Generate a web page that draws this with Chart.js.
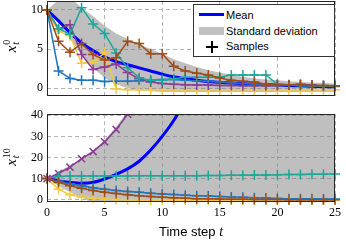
<!DOCTYPE html>
<html>
<head>
<meta charset="utf-8">
<script src="https://cdn.jsdelivr.net/npm/chart.js@4.4.1/dist/chart.umd.min.js"></script>
<style>
  html, body { margin: 0; padding: 0; background: #fff; }
  #wrap { position: relative; width: 346px; height: 243px; overflow: hidden; }
  canvas { position: absolute; left: 0; }
  #topChart { top: 0; }
  #botChart { top: 100px; }
  .ylab { position: absolute; width: 40px; height: 20px; line-height: 20px; text-align: center;
          transform: rotate(-90deg); font-family: "Liberation Serif", serif; font-size: 15px; white-space: nowrap; }
  .ylab i { font-style: italic; }
  .ss { display: inline-block; font-size: 10px; line-height: 9px; vertical-align: -3px; margin-left: 1px; text-align: left; }
  .ss span { display: block; }
  .legend { position: absolute; left: 193px; top: 4px; width: 142px; height: 53px; box-sizing: border-box;
            border: 1px solid #333; background: #fff; font: 11px "Liberation Sans", Arial, sans-serif; color: #000; }
  .legend .txt { position: absolute; left: 32px; line-height: 12px; white-space: nowrap; }
  .xtitle { position: absolute; left: 47px; width: 288px; top: 224px; text-align: center;
            font: 13px "Liberation Sans", Arial, sans-serif; line-height: 15px; }
  .xtitle i { font-family: "Liberation Serif", serif; font-size: 14px; }
</style>
</head>
<body>
<div id="wrap">
  <canvas id="topChart" width="346" height="100"></canvas>
  <canvas id="botChart" width="346" height="143"></canvas>

  <div class="ylab" style="left:-9px; top:36px;"><i>x</i><span class="ss"><span>0</span><span><i>t</i></span></span></div>
  <div class="ylab" style="left:-9px; top:147px;"><i>x</i><span class="ss"><span>10</span><span><i>t</i></span></span></div>

  <div class="legend">
    <div style="position:absolute; left:5px; top:8px; width:25px; height:3px; background:#0000ff;"></div>
    <div class="txt" style="top:4px;">Mean</div>
    <div style="position:absolute; left:5px; top:22px; width:25px; height:8px; background:#c0c0c0;"></div>
    <div class="txt" style="top:20px;">Standard deviation</div>
    <div style="position:absolute; left:12px; top:41px; width:12px; height:2px; background:#000;"></div>
    <div style="position:absolute; left:17px; top:36px; width:2px; height:12px; background:#000;"></div>
    <div class="txt" style="top:35px;">Samples</div>
  </div>

  <div class="xtitle">Time step <i>t</i></div>
</div>

<script>
// time steps and tick labels
const steps = [0, 1, 2, 3, 4, 5, 6, 7, 8, 9, 10, 11, 12, 13, 14, 15, 16, 17, 18, 19, 20, 21, 22, 23, 24, 25];
const xTicks = [0, 5, 10, 15, 20, 25];
const yTicksTop = [0, 5, 10];
const yTicksBot = [0, 10, 20, 30, 40];

// top panel: x_t^0
const meanTop  = [10, 8.6, 7.1, 5.8, 4.8, 4.0, 3.4, 3.0, 2.6, 2.2, 1.8, 1.45, 1.2, 1.0, 0.85, 0.75, 0.66, 0.58, 0.5, 0.45, 0.4, 0.35, 0.3, 0.25, 0.2, 0.17];
const upperTop = [10, 11.3, 11.6, 10.3, 9.2, 8.0, 7.0, 6.3, 5.6, 5.0, 4.4, 3.7, 3.2, 2.7, 2.3, 2.0, 1.7, 1.45, 1.25, 1.1, 1.0, 0.9, 0.8, 0.72, 0.66, 0.6];
const lowerTop = [10, 8.4, 6.4, 4.3, 2.6, 1.3, 0.5, 0.0, -0.3, -0.4, -0.5, -0.5, -0.5, -0.5, -0.5, -0.5, -0.5, -0.5, -0.5, -0.5, -0.5, -0.5, -0.5, -0.5, -0.5, -0.5];
const blueTop   = [10, 2.2, 1.25, 1.0, 1.0, 0.85, 0.9, 0.9, 0.95, 1.0, 1.1, 1.1, 1.0, 0.95, 0.9, 0.8, 0.7, 0.6, 0.55, 0.5, 0.45, 0.4, 0.35, 0.3, 0.3, 0.3];
const yellowTop = [10, 7.3, 6.7, 3.2, 3.3, 4.5, -0.1, -0.2, -0.2, -0.2, -0.2, -0.2, -0.2, -0.2, -0.2, -0.2, -0.2, -0.2, -0.2, -0.2, -0.2, -0.2, -0.2, -0.2, -0.2, -0.2];
const purpleTop = [10, 7.6, 8.1, 4.3, 2.4, 2.7, 3.1, 2.0, 1.2, 0.8, 0.6, 0.5, 0.45, 0.4, 0.4, 0.35, 0.35, 0.3, 0.3, 0.3, 0.35, 0.45, 0.5, 0.4, 0.25, 0.2];
const tealTop   = [10, 7.6, 6.9, 10.3, 8.2, 7.0, 4.5, 2.6, 1.35, 1.0, 1.0, 1.2, 1.4, 1.4, 1.4, 1.4, 1.7, 1.7, 1.7, 1.7, 0.5, 0.4, 0.35, 0.3, 0.3, 0.3];
const brownTop  = [10, 6.0, 4.6, 5.7, 4.3, 3.6, 3.9, 6.0, 5.7, 4.4, 4.4, 2.8, 2.2, 1.9, 1.7, 1.3, 1.0, 0.9, 0.8, 0.5, 0.4, 0.4, 0.4, 0.35, 0.35, 0.3];

// bottom panel: x_t^10
const meanBot  = [10, 8.9, 8.2, 7.8, 8.2, 9.8, 12.0, 14.6, 18.2, 23.5, 30.0, 37.5, 47, 58];
const upperBot = [10, 13.3, 16.2, 19.3, 23.2, 28.3, 34.5, 42, 51, 62, 75, 90, 108, 130, 155, 185, 220, 260, 310, 370, 440, 520, 620, 740, 880, 1050];
const lowerBot = [10, 6.5, 3.5, 1.0, -1.5, -3, -3, -3, -3, -3, -3, -3, -3, -3, -3, -3, -3, -3, -3, -3, -3, -3, -3, -3, -3, -3];
const purpleBot = [10, 12.4, 15.4, 19.4, 22.8, 27.4, 33.3, 40.5, 49];
const tealBot   = [10, 11.0, 11.2, 11.2, 11.2, 11.2, 11.2, 11.2, 11.3, 11.3, 11.3, 11.4, 11.4, 11.4, 11.5, 11.5, 11.6, 11.6, 11.7, 11.7, 11.8, 11.9, 11.9, 12.0, 12.1, 12.2];
const blueBot   = [10, 8.8, 7.6, 6.6, 5.7, 5.0, 4.4, 3.9, 3.5, 3.1, 2.7, 2.4, 2.1, 1.9, 1.7, 1.5, 1.3, 1.1, 0.9, 0.8, 0.6, 0.5, 0.4, 0.4, 0.3, 0.3];
const brownBot  = [10, 8.2, 6.6, 5.4, 4.3, 3.5, 2.9, 2.3, 1.9, 1.5, 1.2, 0.9, 0.7, 0.5, 0.4, 0.3, 0.2, 0.15, 0.1, 0.1, 0.05, 0, 0, 0, 0, 0];
const yellowBot = [10, 5.0, 2.3, 1.3, 0.7, 0.3, 0.1, 0, -0.1, -0.1, -0.2, -0.2, -0.2, -0.2, -0.2, -0.2, -0.2, -0.2, -0.2, -0.2, -0.2, -0.2, -0.2, -0.2, -0.2, -0.2];

const COLORS = {
    mean: '#0000ff',
    band: 'rgba(128, 128, 128, 0.5)',
    blue: '#1f74c0',
    yellow: '#f5c93e',
    purple: '#8a3c94',
    teal: '#1fa69a',
    brown: '#9e4c18'
};

function pts(vals) {
    return vals.map((v, i) => ({ x: steps[i], y: v }));
}

function sample(vals, color, order, style) {
    return {
        data: pts(vals),
        borderColor: color,
        borderWidth: 1.5,
        pointStyle: style || 'cross',
        pointRadius: 5,
        pointBorderColor: color,
        pointBorderWidth: 1.5,
        fill: false,
        tension: 0,
        order: order,
        clip: { left: 8, right: 8, top: 0, bottom: 8 }
    };
}

function band(upper, lower) {
    return [{
        data: pts(upper),
        borderWidth: 0,
        pointRadius: 0,
        backgroundColor: COLORS.band,
        fill: '+1',
        order: 20
    }, {
        data: pts(lower),
        borderWidth: 0,
        pointRadius: 0,
        fill: false,
        order: 21
    }];
}

function meanLine(vals) {
    return {
        data: pts(vals),
        borderColor: COLORS.mean,
        borderWidth: 3,
        pointRadius: 0,
        fill: false,
        tension: 0.3,
        order: 10,
        clip: { left: 0, right: 0, top: 0, bottom: 0 }
    };
}

// black frame around the plot area
const frame = {
    id: 'frame',
    afterDraw(chart) {
        const a = chart.chartArea;
        const ctx = chart.ctx;
        ctx.save();
        ctx.strokeStyle = '#262626';
        ctx.lineWidth = 1;
        ctx.strokeRect(Math.round(a.left) + 0.5, Math.round(a.top) + 0.5,
                       Math.round(a.right - a.left) - 1, Math.round(a.bottom - a.top) - 1);
        ctx.restore();
    }
};

function noPad(axis) {
    axis.paddingTop = 0;
    axis.paddingBottom = 0;
    axis.paddingLeft = 0;
    axis.paddingRight = 0;
}

// box: wanted plot area top/bottom inside the canvas
function makeOptions(yMin, yMax, yTicks, showX, box) {
    const gridStyle = { color: '#b4b4b4', lineWidth: 1, drawTicks: false };
    return {
        responsive: false,
        animation: false,
        events: [],
        layout: { autoPadding: false, padding: { left: 0, right: 11, top: box.top, bottom: 0 } },
        plugins: { legend: { display: false }, tooltip: { enabled: false } },
        scales: {
            x: {
                type: 'linear',
                min: 0,
                max: 25,
                grid: gridStyle,
                border: { display: false, dash: [4, 3] },
                ticks: {
                    display: showX,
                    padding: 4,
                    color: '#000',
                    font: { family: '"Liberation Serif", serif', size: 12 }
                },
                afterBuildTicks: axis => { axis.ticks = xTicks.map(v => ({ value: v })); },
                afterFit: axis => { axis.height = box.xh; noPad(axis); }
            },
            y: {
                min: yMin,
                max: yMax,
                grid: gridStyle,
                border: { display: false, dash: [4, 3] },
                ticks: {
                    padding: 4,
                    color: '#000',
                    font: { family: '"Liberation Serif", serif', size: 12 }
                },
                afterBuildTicks: axis => { axis.ticks = yTicks.map(v => ({ value: v })); },
                afterFit: axis => { axis.width = 47; noPad(axis); }
            }
        }
    };
}

// nudge the layout until the plot area sits where the reference has it
function placeArea(chart, box, wantTop, wantBottom) {
    for (let k = 0; k < 3; k++) {
        const a = chart.chartArea;
        const dTop = wantTop - a.top;
        const dBot = a.bottom - wantBottom;
        if (Math.abs(dTop) < 0.05 && Math.abs(dBot) < 0.05) break;
        chart.options.layout.padding.top += dTop;
        box.xh += dBot + dTop;
        chart.update();
    }
}

const topBox = { top: 1, xh: 4 };
const topChart = new Chart(document.getElementById('topChart'), {
    type: 'line',
    data: {
        datasets: [
            ...band(upperTop, lowerTop),
            meanLine(meanTop),
            sample(blueTop, COLORS.blue, 5),
            sample(yellowTop, COLORS.yellow, 4),
            sample(purpleTop, COLORS.purple, 3),
            sample(tealTop, COLORS.teal, 2),
            sample(brownTop, COLORS.brown, 1)
        ]
    },
    options: makeOptions(-1, 11.15, yTicksTop, false, topBox),
    plugins: [frame]
});
placeArea(topChart, topBox, 1, 96);

const botBox = { top: 14.2, xh: 41.2 };
const botChart = new Chart(document.getElementById('botChart'), {
    type: 'line',
    data: {
        datasets: [
            ...band(upperBot, lowerBot),
            meanLine(meanBot),
            sample(blueBot, COLORS.blue, 5),
            sample(yellowBot, COLORS.yellow, 4),
            sample(purpleBot, COLORS.purple, 3, 'crossRot'),
            sample(tealBot, COLORS.teal, 2),
            sample(brownBot, COLORS.brown, 1)
        ]
    },
    options: makeOptions(-1, 40.5, yTicksBot, true, botBox),
    plugins: [frame]
});
placeArea(botChart, botBox, 14.2, 101.8);
</script>
</body>
</html>
